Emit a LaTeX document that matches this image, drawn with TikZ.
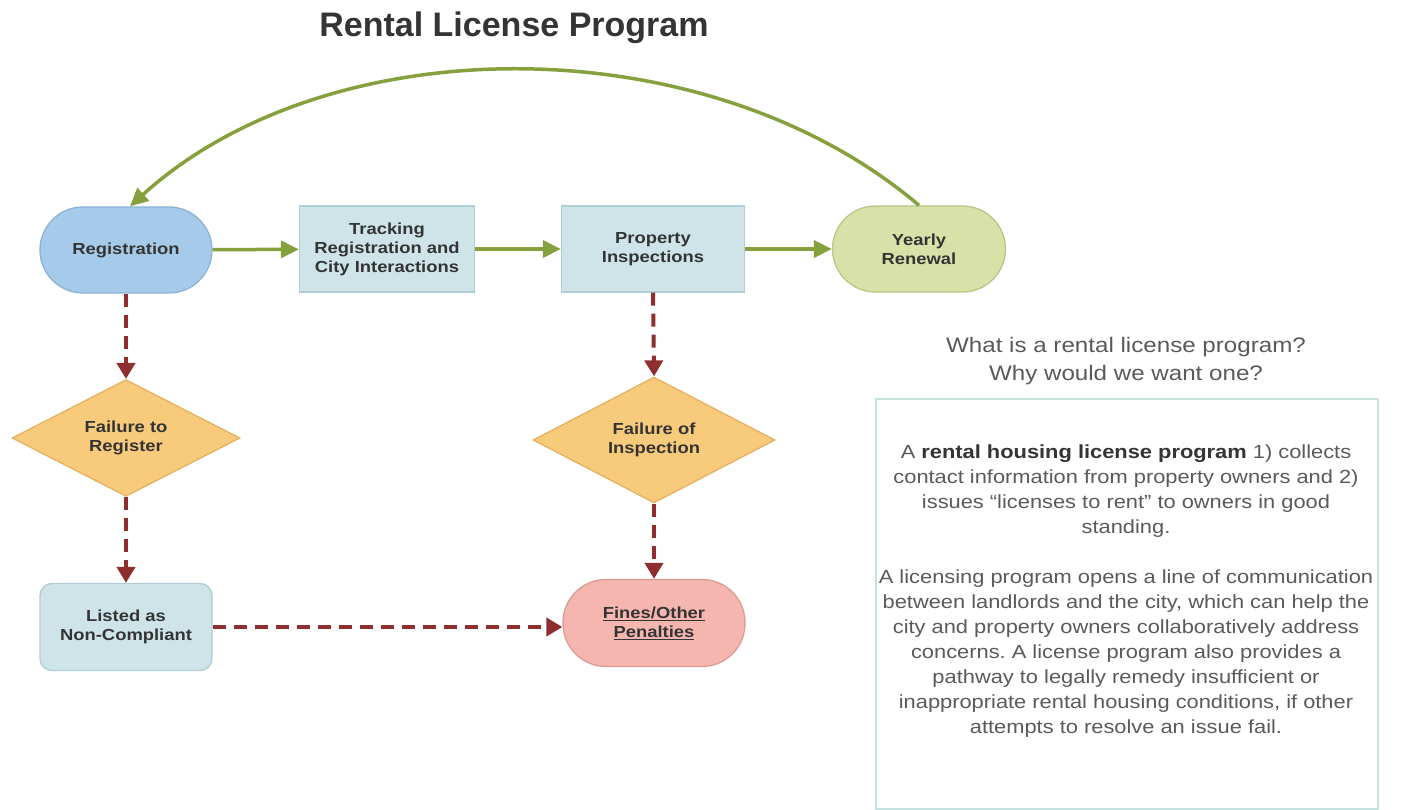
\documentclass[tikz,border=0pt]{standalone}
\usepackage{fontspec}
\setmainfont{Liberation Sans}
\newfontfamily\nodefont{Liberation Sans}[FakeStretch=1.15]
\usetikzlibrary{shapes.geometric,arrows.meta}
\frenchspacing
\definecolor{regfill}{RGB}{166,203,234}
\definecolor{regdraw}{RGB}{140,178,212}
\definecolor{boxfill}{RGB}{206,228,233}
\definecolor{boxdraw}{RGB}{176,205,212}
\definecolor{yrfill}{RGB}{216,226,168}
\definecolor{yrdraw}{RGB}{186,198,136}
\definecolor{dfill}{RGB}{248,202,124}
\definecolor{ddraw}{RGB}{228,178,96}
\definecolor{finfill}{RGB}{246,182,176}
\definecolor{findraw}{RGB}{222,154,148}
\definecolor{garr}{RGB}{133,160,60}
\definecolor{rarr}{RGB}{142,46,46}
\definecolor{ntext}{RGB}{52,52,52}
\definecolor{ptext}{RGB}{90,90,90}
\definecolor{infobox}{RGB}{196,227,223}
\tikzset{
  nbase/.style={line width=1.3pt, text=ntext, align=center, inner sep=0pt,
    font=\nodefont\bfseries\fontsize{16}{19}\selectfont},
  stadium/.style={nbase, rectangle, rounded corners=43pt, minimum height=86pt},
  flatbox/.style={nbase, rectangle, minimum height=86pt, fill=boxfill, draw=boxdraw},
  decide/.style={nbase, diamond, minimum height=110pt, fill=dfill, draw=ddraw},
  garrow/.style={draw=garr, line width=3.5pt, -{Triangle[length=18pt,width=17pt]}},
  rarrow/.style={draw=rarr, line width=4pt, dash pattern=on 13pt off 8pt,
    -{Triangle[length=16pt,width=18pt]}},
}
\begin{document}
\begin{tikzpicture}[x=1pt,y=-1pt]
\useasboundingbox[fill=white] (0,0) rectangle (1402,810);

\node[text=ntext, font=\bfseries\fontsize{34}{40}\selectfont] (title) at (514,28) {Rental License Program};

\node[stadium, minimum width=172pt, fill=regfill, draw=regdraw] (reg) at (126,250) {Registration};
\node[flatbox, minimum width=175pt] (track) at (387,249) {Tracking\\Registration and\\City Interactions};
\node[flatbox, minimum width=183pt] (prop) at (653,249) {Property\\Inspections};
\node[stadium, minimum width=173pt, fill=yrfill, draw=yrdraw] (yr) at (919,249) {Yearly\\Renewal};

\node[decide, minimum width=228pt] (fr) at (126,438) {Failure to\\Register};
\node[decide, minimum width=242pt] (fi) at (654,440) {Failure of\\Inspection};

\node[flatbox, rounded corners=12pt, minimum width=172pt, minimum height=87pt] (lnc) at (126,627) {Listed as\\Non-Compliant};
\node[stadium, minimum width=182pt, minimum height=87pt, fill=finfill, draw=findraw] (fines) at (654,623) {\underline{Fines/Other}\\\underline{Penalties}};

\draw[garrow] (reg) -- (track);
\draw[garrow] (track) -- (prop);
\draw[garrow] (prop) -- (yr);
\draw[garrow] (yr.north) .. controls (707,25) and (330,25) .. ([xshift=4pt]reg.north);

\draw[rarrow] (reg.south) -- (fr.north);
\draw[rarrow] (fr.south) -- (lnc.north);
\draw[rarrow] (prop.south) -- (fi.north);
\draw[rarrow] (fi.south) -- (fines.north);
\draw[rarrow] (lnc.east) -- (fines.west |- lnc.east);

\node[text=ptext, align=center, font=\nodefont\fontsize{21}{28}\selectfont] (q) at (1126,361)
  {What is a rental license program?\\Why would we want one?};
\node[draw=infobox, line width=1.5pt, minimum width=502pt, minimum height=410pt, anchor=north west, inner sep=0pt] (box) at (875,398) {};
\node[text=ptext, align=center, anchor=north, inner sep=0pt, font=\nodefont\fontsize{19}{25}\selectfont] (info) at (1126,445)
  {A {\color{ntext}\bfseries rental housing license program} 1) collects\\
   contact information from property owners and 2)\\
   issues “licenses to rent” to owners in good\\
   standing.\\[25pt]
   A licensing program opens a line of communication\\
   between landlords and the city, which can help the\\
   city and property owners collaboratively address\\
   concerns. A license program also provides a\\
   pathway to legally remedy insufficient or\\
   inappropriate rental housing conditions, if other\\
   attempts to resolve an issue fail.};
\end{tikzpicture}
\end{document}
